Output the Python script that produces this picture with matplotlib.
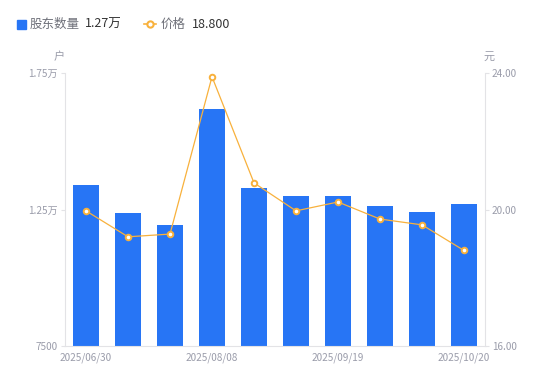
import matplotlib
matplotlib.use("Agg")
import matplotlib.pyplot as plt
from matplotlib.ticker import FixedLocator

plt.rcParams['font.family'] = ['Noto Sans CJK SC', 'DejaVu Sans']

dates = ["2025/06/30", "2025/07/10", "2025/07/20", "2025/08/08", "2025/08/20",
         "2025/08/29", "2025/09/19", "2025/09/30", "2025/10/10", "2025/10/20"]
holders = [13400, 12370, 11930, 16180, 13290, 12990, 13000, 12630, 12410, 12700]
price = [19.96, 19.20, 19.28, 23.89, 20.78, 19.96, 20.22, 19.72, 19.55, 18.80]
shown_ticks = [0, 3, 6, 9]
left_ticks = [7500, 12500, 17500]
left_labels = ["7500", "1.25万", "1.75万"]
right_ticks = [16, 20, 24]

bar_color = "#2775f5"
line_color = "#f8b13c"
tick_color = "#9a9caa"
axis_color = "#e3e3e6"

fig = plt.figure(figsize=(5.5, 3.81), dpi=100)
ax = fig.add_axes([65 / 550, 35 / 381, 420 / 550, 273 / 381])
x = list(range(len(dates)))
ax.bar(x, holders, width=0.6, color=bar_color, zorder=2)
ax.set_xlim(-0.5, len(dates) - 0.5)
ax.set_ylim(7500, 17500)
ax.yaxis.set_major_locator(FixedLocator(left_ticks))
ax.set_yticklabels(left_labels)
ax.set_xticks(shown_ticks)
ax.set_xticklabels([dates[i] for i in shown_ticks])
ax.tick_params(axis='x', length=0, pad=5, labelsize=7.2, colors=tick_color)
ax.tick_params(axis='y', length=3, width=0.8, color=axis_color, pad=2,
               labelsize=7.2, labelcolor=tick_color)
for s in ['top', 'right']:
    ax.spines[s].set_visible(False)
for s in ['left', 'bottom']:
    ax.spines[s].set_color(axis_color)
    ax.spines[s].set_linewidth(0.8)

ax2 = ax.twinx()
ax2.plot(x, price, color=line_color, lw=0.9, marker='o', ms=4,
         mfc='white', mec=line_color, mew=1.4, zorder=3)
ax2.set_ylim(16, 24)
ax2.set_yticks(right_ticks)
ax2.set_yticklabels([f"{v:.2f}" for v in right_ticks])
ax2.tick_params(axis='y', length=3, width=0.8, color=axis_color, pad=2,
                labelsize=7.2, labelcolor=tick_color)
for s in ['top', 'left', 'bottom']:
    ax2.spines[s].set_visible(False)
ax2.spines['right'].set_color(axis_color)
ax2.spines['right'].set_linewidth(0.8)

fig.text(59 / 550, 1 - 57 / 381, "户", fontsize=8, color=tick_color,
         ha='center', va='center')
fig.text(489 / 550, 1 - 57 / 381, "元", fontsize=8, color=tick_color,
         ha='center', va='center')

# legend
ly = 1 - 24 / 381
fig.patches.append(plt.Rectangle((17 / 550, ly - 4.5 / 381), 9 / 550, 9 / 381,
                                 transform=fig.transFigure, color=bar_color))
fig.text(30 / 550, ly, "股东数量", fontsize=9, color="#6e7079", va='center')
fig.text(85 / 550, ly, "1.27万", fontsize=9, color="#333333", va='center')
fig.lines.append(plt.Line2D([144 / 550, 156 / 550], [ly, ly], transform=fig.transFigure,
                            color=line_color, lw=1.2))
fig.lines.append(plt.Line2D([150 / 550], [ly], transform=fig.transFigure,
                            color=line_color, marker='o', ms=4.5, mfc='white',
                            mec=line_color, mew=1.5, lw=0))
fig.text(161 / 550, ly, "价格", fontsize=9, color="#6e7079", va='center')
fig.text(192 / 550, ly, "18.800", fontsize=9, color="#333333", va='center')

fig.savefig("out.png", dpi=100)
